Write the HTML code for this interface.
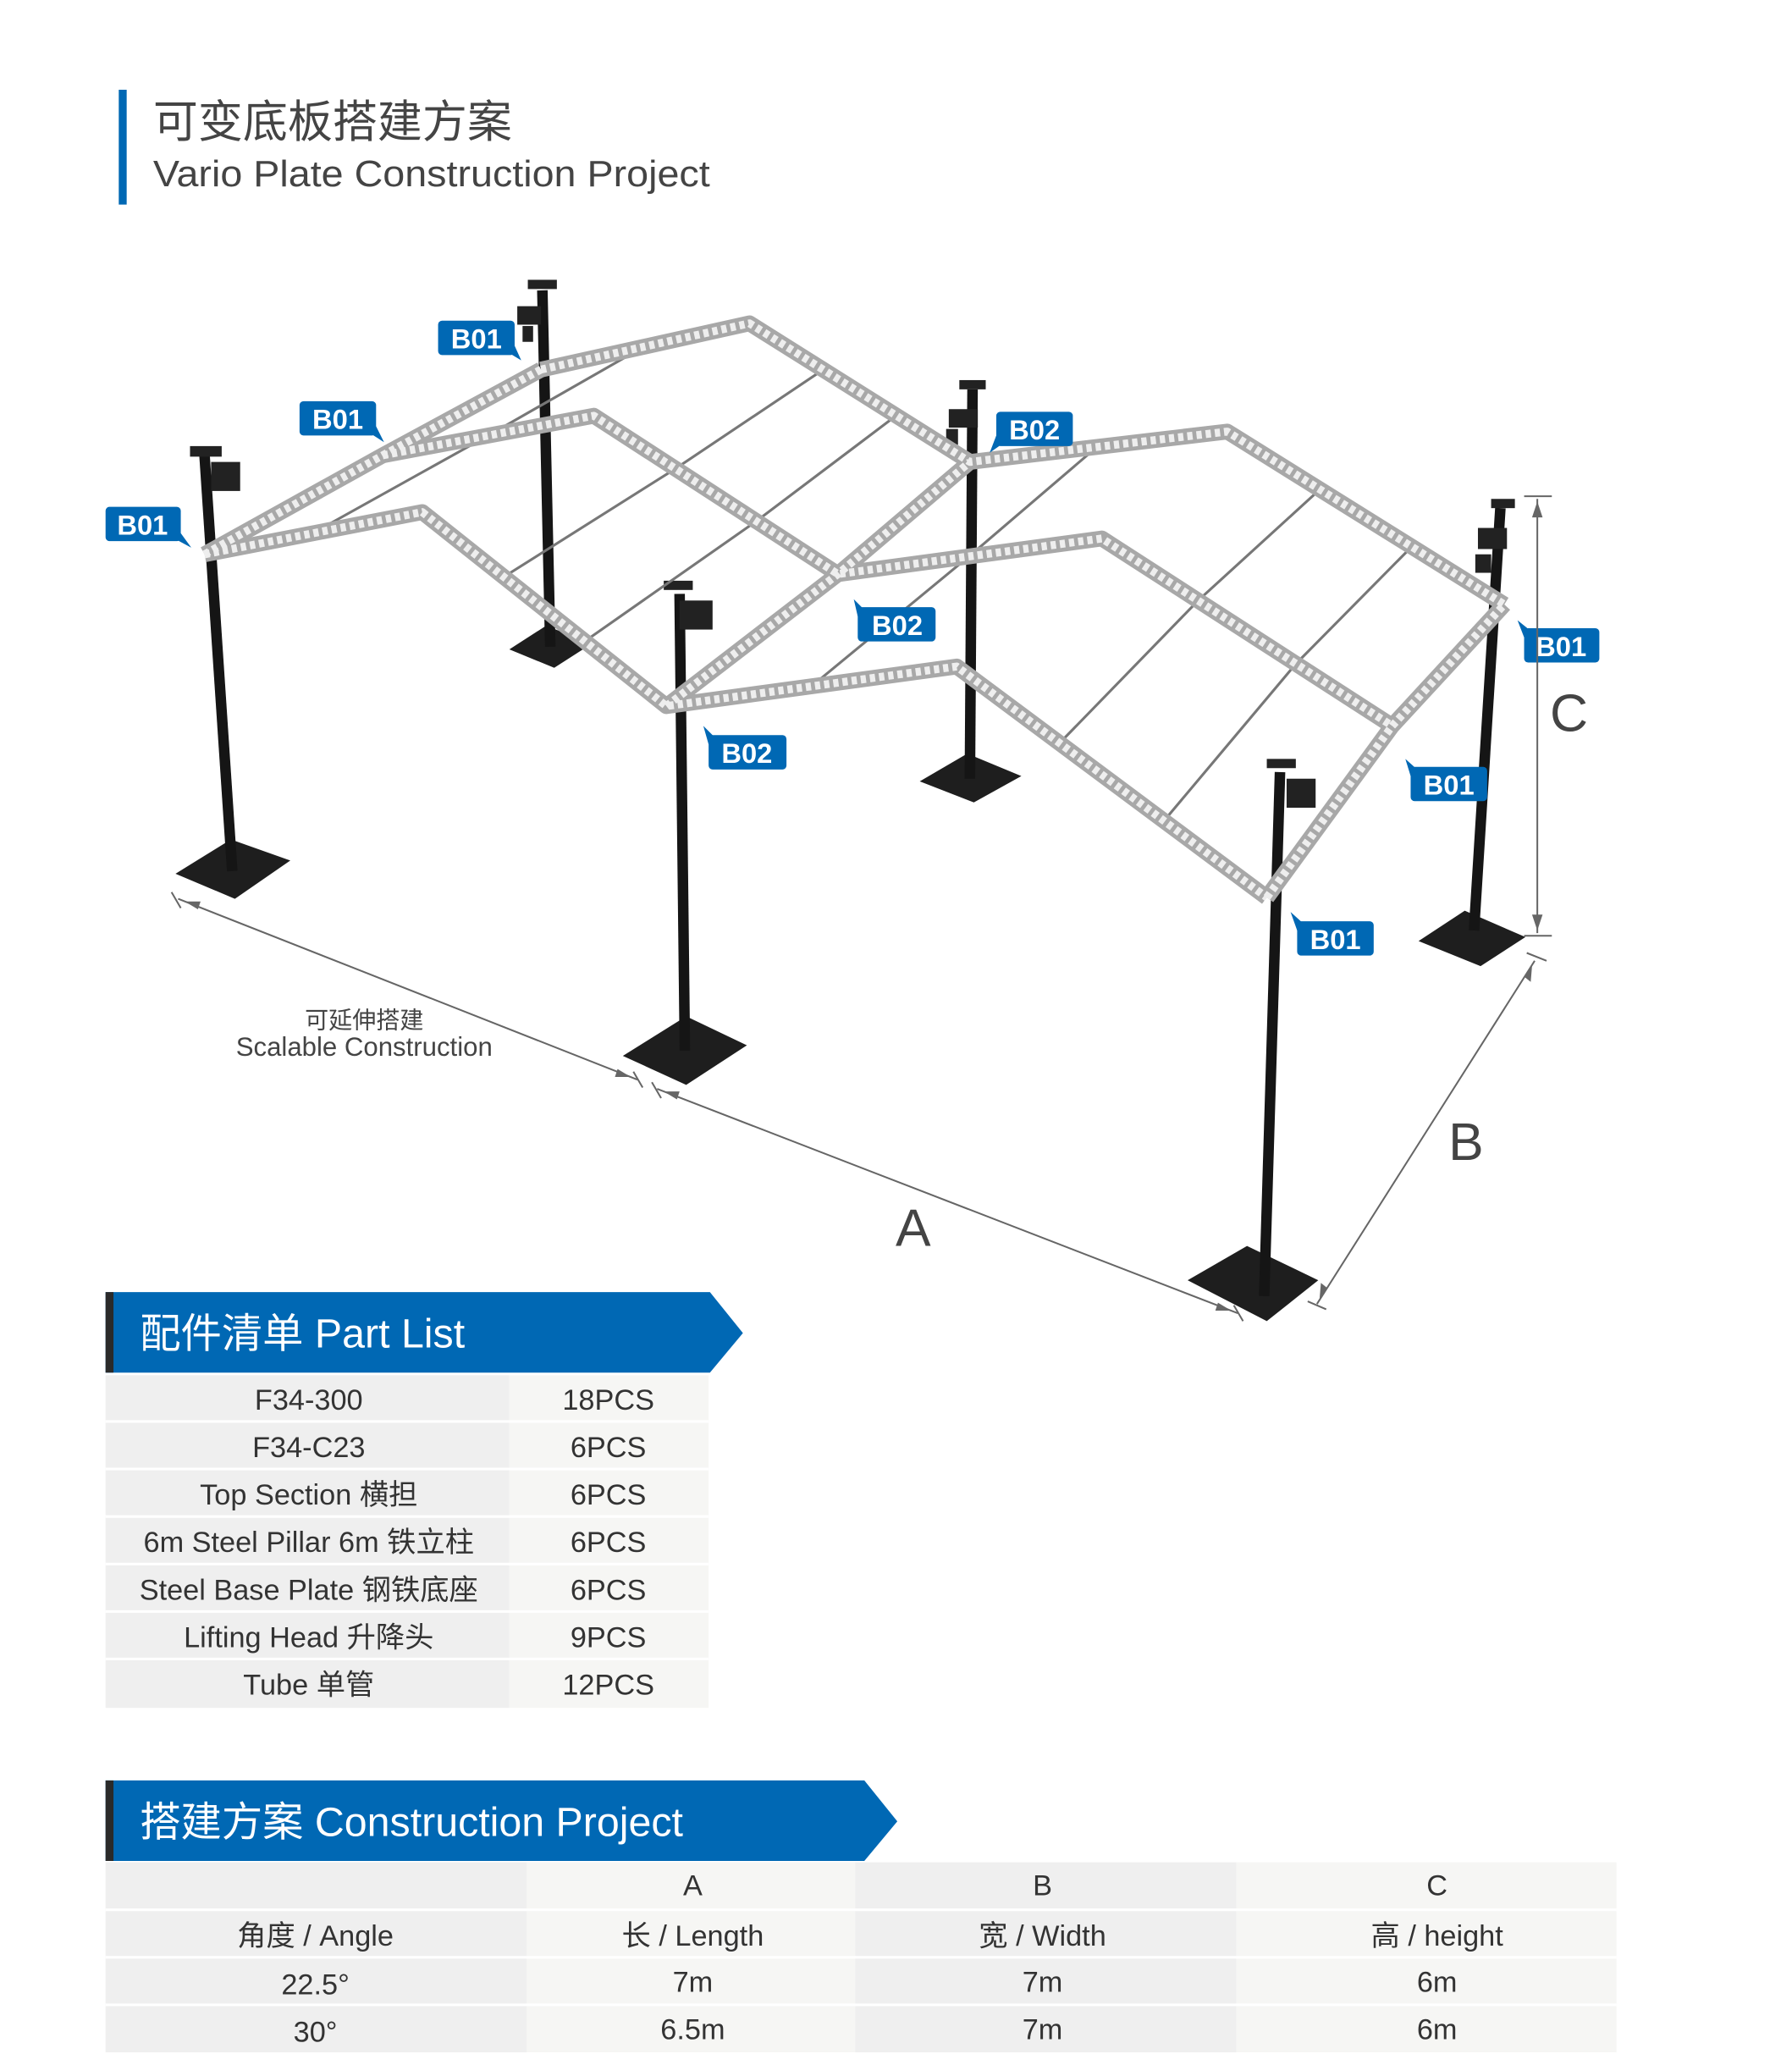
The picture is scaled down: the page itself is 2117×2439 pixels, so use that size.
<!DOCTYPE html>
<html><head><meta charset="utf-8"><style>
html,body{margin:0;padding:0;background:#fff}
svg{display:block}
text{font-family:"Liberation Sans","Noto Sans CJK SC",sans-serif}
</style></head><body>
<svg width="2117" height="2439" viewBox="0 0 1358 1564.6" preserveAspectRatio="none" xmlns="http://www.w3.org/2000/svg">
<rect x="0" y="0" width="1358" height="1565" fill="#fff"/>
<rect x="90" y="68" width="6" height="87" fill="#0068b4"/>
<text x="116" y="104" font-size="34" fill="#444">可变底板搭建方案</text>
<text x="116" y="141" font-size="28" fill="#444" textLength="422" lengthAdjust="spacingAndGlyphs">Vario Plate Construction Project</text>

<g fill="#1e1e1e">
<polygon points="133,662 178,681 220,652 175,636"/>
<polygon points="386,492 420,506 448,488 414,474"/>
<polygon points="697,592 738,608 774,588 733,571"/>
<polygon points="472,800 520,822 566,792 520,770"/>
<polygon points="900,970 960,1001 999,970 945,944"/>
<polygon points="1075,713 1122,732 1156,710 1110,690"/>
</g>
<g stroke="#151515" stroke-width="8" fill="none">
<line x1="155" y1="345" x2="176" y2="660"/>
<line x1="411" y1="220" x2="417" y2="490"/>
<line x1="737" y1="295" x2="735" y2="590"/>
<line x1="515" y1="450" x2="519" y2="796"/>
<line x1="970" y1="585" x2="958" y2="982"/>
<line x1="1137" y1="385" x2="1117" y2="705"/>
</g>
<g fill="#222">
<rect x="144" y="338" width="24" height="8"/><rect x="160" y="350" width="22" height="22"/>
<rect x="400" y="212" width="22" height="7"/><rect x="392" y="232" width="18" height="14"/><rect x="396" y="247" width="8" height="12"/>
<rect x="727" y="288" width="20" height="7"/><rect x="719" y="310" width="22" height="14"/><rect x="717" y="325" width="9" height="12"/>
<rect x="503" y="440" width="22" height="7"/><rect x="515" y="455" width="25" height="22"/>
<rect x="960" y="575" width="22" height="7"/><rect x="975" y="590" width="22" height="22"/>
<rect x="1130" y="378" width="18" height="7"/><rect x="1120" y="400" width="22" height="16"/><rect x="1118" y="420" width="12" height="14"/>
</g>
<g stroke="#777" stroke-width="2" fill="none">
<polyline points="237,404 370,330 489,262"/>
<polyline points="382,437 512,355 624,280"/>
<polyline points="443,486 573,395 679,315"/>
<polyline points="615,520 735,421 832,338"/>
<polyline points="803,563 908,455 1000,371"/>
<polyline points="882,622 982,503 1070,414"/>
</g>
<g fill="none" stroke-linejoin="round">
<g stroke="#a8a8a8" stroke-width="12">
<polyline points="155,420 320,388 505,535 725,505 960,680"/>
<polyline points="290,345 450,315 635,435 835,408 1055,550"/>
<polyline points="410,280 568,245 735,350 930,327 1140,458"/>
<polyline points="155,420 290,345 410,280"/>
<polyline points="505,535 635,435 735,350"/>
<polyline points="960,680 1055,550 1140,458"/>
</g>
<g stroke="#eee" stroke-width="6" stroke-dasharray="4 3">
<polyline points="155,420 320,388 505,535 725,505 960,680"/>
<polyline points="290,345 450,315 635,435 835,408 1055,550"/>
<polyline points="410,280 568,245 735,350 930,327 1140,458"/>
<polyline points="155,420 290,345 410,280"/>
<polyline points="505,535 635,435 735,350"/>
<polyline points="960,680 1055,550 1140,458"/>
</g>
</g>
<g font-size="21" font-weight="bold" fill="#fff" text-anchor="middle">
<g fill="#0068b4">
<rect x="80" y="384" width="57" height="26" rx="3"/><polygon points="132,408 145,415 137,404"/>
<rect x="332" y="243" width="58" height="26" rx="3"/><polygon points="385,267 395,273 390,262"/>
<rect x="227" y="304" width="58" height="26" rx="3"/><polygon points="280,328 291,335 285,323"/>
<rect x="755" y="312" width="58" height="26" rx="3"/><polygon points="760,336 750,343 755,330"/>
<rect x="650" y="460" width="59" height="26" rx="3"/><polygon points="655,462 647,454 650,467"/>
<rect x="537" y="557" width="59" height="26" rx="3"/><polygon points="542,559 533,550 537,564"/>
<rect x="1155" y="476" width="57" height="26" rx="3"/><polygon points="1160,478 1150,470 1155,483"/>
<rect x="1069" y="581" width="58" height="26" rx="3"/><polygon points="1074,583 1065,575 1069,588"/>
<rect x="983" y="698" width="58" height="26" rx="3"/><polygon points="988,700 978,691 983,705"/>
</g>
<text x="108" y="405">B01</text><text x="361" y="264">B01</text><text x="256" y="325">B01</text>
<text x="784" y="333">B02</text><text x="680" y="481">B02</text><text x="566" y="578">B02</text>
<text x="1183" y="497">B01</text><text x="1098" y="602">B01</text><text x="1012" y="719">B01</text>
</g>
<g stroke="#666" stroke-width="1.3" fill="none">
<line x1="135" y1="681" x2="483" y2="818"/>
<line x1="130" y1="676" x2="137" y2="688"/><line x1="480" y1="812" x2="487" y2="824"/>
<line x1="498" y1="825" x2="938" y2="995"/>
<line x1="494" y1="820" x2="501" y2="832"/><line x1="935" y1="989" x2="942" y2="1001"/>
<line x1="998" y1="988" x2="1163" y2="728"/>
<line x1="991" y1="986" x2="1005" y2="992"/><line x1="1157" y1="722" x2="1172" y2="728"/>
<line x1="1165" y1="378" x2="1165" y2="707"/>
<line x1="1155" y1="376" x2="1176" y2="376"/><line x1="1155" y1="709" x2="1176" y2="709"/>
</g>
<g fill="#666">
<polygon points="140,683 152,683 150,689"/>
<polygon points="478,816 466,816 468,810"/>
<polygon points="503,827 515,827 513,833"/>
<polygon points="933,993 921,993 923,987"/>
<polygon points="1000,984 1001,972 1006,976"/>
<polygon points="1161,732 1160,744 1155,740"/>
<polygon points="1165,380 1161,392 1169,392"/>
<polygon points="1165,705 1161,693 1169,693"/>
</g>
<text x="276" y="779" font-size="18" fill="#444" text-anchor="middle">可延伸搭建</text>
<text x="276" y="800" font-size="20" fill="#444" text-anchor="middle">Scalable Construction</text>
<text x="692" y="944" font-size="40" fill="#444" text-anchor="middle">A</text>
<text x="1111" y="879" font-size="40" fill="#444" text-anchor="middle">B</text>
<text x="1189" y="554" font-size="40" fill="#444" text-anchor="middle">C</text>

<polygon points="80,979 538,979 563,1010 538,1040 80,1040" fill="#0068b4"/>
<rect x="80" y="979" width="6" height="61" fill="#2a2a2a"/>
<text x="106" y="1021" font-size="31" fill="#fff">配件清单 Part List</text>
<g>
<rect x="80" y="1042" width="306" height="252" fill="#efefef"/>
<rect x="386" y="1042" width="151" height="252" fill="#f6f6f4"/>
<g stroke="#fff" stroke-width="2">
<line x1="80" y1="1077" x2="537" y2="1077"/><line x1="80" y1="1113" x2="537" y2="1113"/>
<line x1="80" y1="1149" x2="537" y2="1149"/><line x1="80" y1="1185" x2="537" y2="1185"/>
<line x1="80" y1="1221" x2="537" y2="1221"/><line x1="80" y1="1257" x2="537" y2="1257"/>
</g>
<g font-size="22" fill="#333" text-anchor="middle">
<text x="234" y="1068">F34-300</text><text x="461" y="1068">18PCS</text>
<text x="234" y="1104">F34-C23</text><text x="461" y="1104">6PCS</text>
<text x="234" y="1140">Top Section 横担</text><text x="461" y="1140">6PCS</text>
<text x="234" y="1176">6m Steel Pillar 6m 铁立柱</text><text x="461" y="1176">6PCS</text>
<text x="234" y="1212">Steel Base Plate 钢铁底座</text><text x="461" y="1212">6PCS</text>
<text x="234" y="1248">Lifting Head 升降头</text><text x="461" y="1248">9PCS</text>
<text x="234" y="1284">Tube 单管</text><text x="461" y="1284">12PCS</text>
</g>
</g>

<polygon points="80,1349 655,1349 680,1380 655,1410 80,1410" fill="#0068b4"/>
<rect x="80" y="1349" width="6" height="61" fill="#2a2a2a"/>
<text x="106" y="1391" font-size="31" fill="#fff">搭建方案 Construction Project</text>
<rect x="80" y="1411" width="319" height="144" fill="#efefef"/>
<rect x="399" y="1411" width="249" height="144" fill="#f6f6f4"/>
<rect x="648" y="1411" width="289" height="144" fill="#efefef"/>
<rect x="937" y="1411" width="288" height="144" fill="#f6f6f4"/>
<g stroke="#fff" stroke-width="2">
<line x1="80" y1="1447" x2="1225" y2="1447"/><line x1="80" y1="1483" x2="1225" y2="1483"/><line x1="80" y1="1519" x2="1225" y2="1519"/>
</g>
<g font-size="22" fill="#333" text-anchor="middle">
<text x="525" y="1436">A</text><text x="790" y="1436">B</text><text x="1089" y="1436">C</text>
<text x="239" y="1474">角度 / Angle</text><text x="525" y="1474">长 / Length</text><text x="790" y="1474">宽 / Width</text><text x="1089" y="1474">高 / height</text>
<text x="239" y="1511">22.5°</text><text x="525" y="1509">7m</text><text x="790" y="1509">7m</text><text x="1089" y="1509">6m</text>
<text x="239" y="1547">30°</text><text x="525" y="1545">6.5m</text><text x="790" y="1545">7m</text><text x="1089" y="1545">6m</text>
</g>
</svg>
</body></html>
